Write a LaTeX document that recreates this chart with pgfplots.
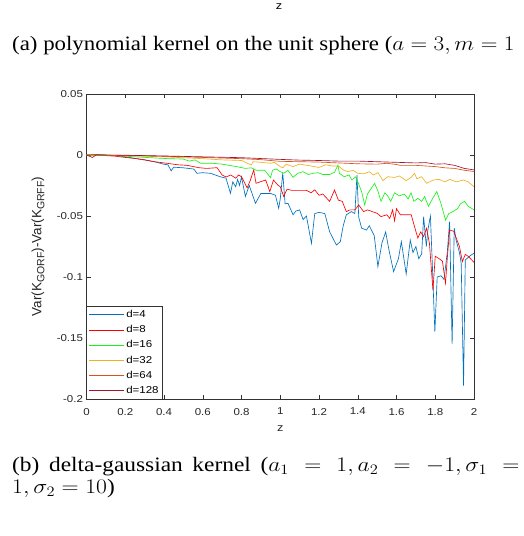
\documentclass[border=0pt]{standalone}
\usepackage{fontspec}
\setmainfont{Liberation Serif}
\newfontfamily\hv[FakeStretch=1.15]{Liberation Sans}
\newfontfamily\hvn{Liberation Sans}
\usepackage{graphicx}
\usepackage{pgfplots}
\pgfplotsset{compat=1.18}
\definecolor{cA}{rgb}{0,0.447,0.741}
\definecolor{cB}{rgb}{1,0,0}
\definecolor{cC}{rgb}{0.1,0.95,0.1}
\definecolor{cD}{rgb}{0.929,0.694,0.125}
\definecolor{cE}{rgb}{0.85,0.325,0.098}
\definecolor{cF}{rgb}{0.635,0.078,0.184}
\newcommand{\capfont}{\fontsize{20.5}{24}\selectfont}
\newcommand{\sub}[1]{\raisebox{-3pt}{\fontsize{10.5}{11}\selectfont #1}}
\begin{document}
\begin{tikzpicture}
\useasboundingbox (0pt,0pt) rectangle (524pt,536pt);
\node[font=\hv\fontsize{11}{12}\selectfont, inner sep=0pt] at (279pt,529pt) {z};
\node[anchor=base west, inner sep=0pt] at (12pt,485pt) {\scalebox{1.115}[1]{\capfont (a) polynomial kernel on the unit sphere ($a=3, m=1$}};
\node[anchor=base west, inner sep=0pt] at (12pt,64.3pt) {\scalebox{1.14}[1]{\capfont\makebox[445pt][s]{(b) delta-gaussian kernel ($a_1 = 1, a_2 = -1, \sigma_1 =$}}};
\node[anchor=base west, inner sep=0pt] at (12pt,42.7pt) {\scalebox{1.14}[1]{\capfont $1, \sigma_2 = 10$)}};
\begin{axis}[
  at={(86.5pt,137pt)}, anchor=south west,
  scale only axis, width=387.5pt, height=305pt,
  xmin=0, xmax=2, ymin=-0.2, ymax=0.05,
  xtick={0,0.2,...,2.01}, ytick={-0.2,-0.15,-0.1,-0.05,0,0.05},
  scaled ticks=false,
  xticklabel style={yshift=-5.5pt, /pgf/number format/.cd, fixed, precision=1},
  yticklabel style={/pgf/number format/.cd, fixed, precision=2},
  /pgf/number format/assume math mode=true,
  tick label style={font=\hv\fontsize{10}{12}\selectfont, text=black!85},
  tick align=inside, major tick length=4pt,
  axis line style={black!80, line width=0.5pt},
  every tick/.style={black!80, line width=0.5pt},
  xlabel={z},
  ylabel={Var(K\sub{GORF})-Var(K\sub{GRFF})},
  every axis x label/.style={at={(axis description cs:0.5,-0.098)}, anchor=center, font=\hv\fontsize{11}{12}\selectfont, text=black!85},
  every axis y label/.style={at={(axis description cs:-0.125,0.5)}, rotate=90, anchor=center, font=\hvn\fontsize{13.5}{14}\selectfont, text=black!85},
  legend style={at={(axis description cs:0,0)}, anchor=south west, draw=black!80, fill=white,
    font=\hv\fontsize{10}{12}\selectfont, row sep=2.4pt, inner sep=2pt},
  legend cell align=left,
  legend image code/.code={\draw[#1] (0pt,0pt) -- (35pt,0pt);},
  every axis plot/.append style={line width=0.65pt},
]
\addplot[cA] coordinates {(0,0) (0.05,0.0005) (0.1,0) (0.15,-0.0005) (0.2,-0.0015) (0.245,-0.0027) (0.3,-0.004) (0.35,-0.0055) (0.4,-0.0076) (0.42,-0.008) (0.437,-0.013) (0.45,-0.010) (0.5,-0.0105) (0.554,-0.0115) (0.57,-0.015) (0.6,-0.0145) (0.64,-0.015) (0.69,-0.0178) (0.72,-0.019) (0.743,-0.0314) (0.755,-0.022) (0.77,-0.026) (0.78,-0.020) (0.79,-0.025) (0.80,-0.018) (0.82,-0.034) (0.84,-0.025) (0.872,-0.0396) (0.9,-0.0315) (0.925,-0.0315) (0.95,-0.0315) (0.975,-0.033) (0.992,-0.0437) (1.0,-0.036) (1.013,-0.0148) (1.025,-0.04) (1.04,-0.0396) (1.066,-0.049) (1.08,-0.046) (1.1,-0.045) (1.118,-0.053) (1.135,-0.05) (1.161,-0.0724) (1.178,-0.048) (1.2,-0.047) (1.23,-0.048) (1.255,-0.063) (1.29,-0.0738) (1.31,-0.071) (1.325,-0.058) (1.341,-0.049) (1.367,-0.0464) (1.385,-0.048) (1.396,-0.0164) (1.405,-0.051) (1.42,-0.06) (1.445,-0.0615) (1.46,-0.058) (1.485,-0.066) (1.504,-0.0915) (1.525,-0.072) (1.544,-0.063) (1.56,-0.077) (1.585,-0.0956) (1.61,-0.085) (1.625,-0.071) (1.65,-0.0975) (1.671,-0.0697) (1.685,-0.08) (1.70,-0.075) (1.715,-0.085) (1.73,-0.081) (1.74,-0.0505) (1.754,-0.075) (1.762,-0.0615) (1.775,-0.05) (1.785,-0.09) (1.798,-0.145) (1.81,-0.1) (1.83,-0.099) (1.845,-0.102) (1.862,-0.08) (1.874,-0.0546) (1.887,-0.155) (1.898,-0.06) (1.908,-0.07) (1.925,-0.08) (1.934,-0.089) (1.946,-0.189) (1.955,-0.086) (1.97,-0.084) (1.985,-0.082) (2.0,-0.0806)};
\addlegendentry{d=4}
\addplot[cB] coordinates {(0,0) (0.05,0.0003) (0.1,-0.0005) (0.15,-0.001) (0.2,-0.002) (0.245,-0.0027) (0.3,-0.004) (0.35,-0.0055) (0.416,-0.0068) (0.47,-0.008) (0.52,-0.0085) (0.58,-0.0104) (0.62,-0.011) (0.674,-0.0104) (0.70,-0.0164) (0.72,-0.018) (0.745,-0.0164) (0.77,-0.019) (0.785,-0.0164) (0.80,-0.0178) (0.829,-0.027) (0.845,-0.021) (0.863,-0.0123) (0.875,-0.0232) (0.9,-0.0218) (0.925,-0.0205) (0.946,-0.030) (0.965,-0.0205) (0.99,-0.025) (1.0,-0.026) (1.018,-0.034) (1.035,-0.028) (1.06,-0.029) (1.1,-0.029) (1.135,-0.029) (1.16,-0.031) (1.178,-0.0285) (1.2,-0.033) (1.22,-0.032) (1.255,-0.038) (1.28,-0.0287) (1.30,-0.037) (1.32,-0.038) (1.341,-0.0464) (1.36,-0.045) (1.385,-0.045) (1.405,-0.041) (1.43,-0.0464) (1.45,-0.045) (1.475,-0.0464) (1.50,-0.0478) (1.52,-0.0505) (1.55,-0.049) (1.565,-0.052) (1.58,-0.045) (1.59,-0.054) (1.60,-0.044) (1.62,-0.049) (1.645,-0.049) (1.676,-0.049) (1.693,-0.0587) (1.71,-0.068) (1.725,-0.063) (1.74,-0.067) (1.755,-0.06) (1.77,-0.0724) (1.788,-0.1107) (1.80,-0.083) (1.82,-0.085) (1.837,-0.087) (1.853,-0.105) (1.862,-0.085) (1.874,-0.0615) (1.895,-0.0625) (1.925,-0.075) (1.94,-0.0874) (1.955,-0.0815) (1.97,-0.083) (2.0,-0.088)};
\addlegendentry{d=8}
\addplot[cC] coordinates {(0,0) (0.1,0) (0.2,-0.001) (0.33,-0.0022) (0.42,-0.003) (0.5,-0.0033) (0.53,-0.005) (0.56,-0.004) (0.589,-0.0068) (0.65,-0.0068) (0.7,-0.0075) (0.777,-0.0096) (0.82,-0.011) (0.85,-0.0105) (0.875,-0.0125) (0.92,-0.0125) (0.95,-0.0186) (0.96,-0.0125) (0.98,-0.0115) (1.0,-0.0137) (1.02,-0.0148) (1.04,-0.0126) (1.066,-0.0183) (1.09,-0.015) (1.118,-0.0137) (1.145,-0.016) (1.17,-0.015) (1.195,-0.0145) (1.22,-0.016) (1.255,-0.016) (1.28,-0.0142) (1.298,-0.0082) (1.305,-0.015) (1.33,-0.0178) (1.355,-0.0164) (1.37,-0.0205) (1.39,-0.0178) (1.41,-0.026) (1.42,-0.030) (1.436,-0.041) (1.45,-0.032) (1.487,-0.0232) (1.505,-0.030) (1.52,-0.038) (1.54,-0.031) (1.555,-0.0335) (1.57,-0.038) (1.59,-0.031) (1.615,-0.0335) (1.64,-0.032) (1.66,-0.036) (1.675,-0.031) (1.69,-0.038) (1.71,-0.0355) (1.73,-0.038) (1.745,-0.034) (1.765,-0.042) (1.785,-0.036) (1.808,-0.030) (1.83,-0.040) (1.853,-0.0533) (1.87,-0.048) (1.89,-0.0465) (1.915,-0.044) (1.93,-0.040) (1.951,-0.038) (1.97,-0.042) (2.0,-0.045)};
\addlegendentry{d=16}
\addplot[cD] coordinates {(0,0) (0.2,-0.0005) (0.4,-0.0015) (0.6,-0.003) (0.7,-0.004) (0.8,-0.0045) (0.85,-0.0082) (0.86,-0.0055) (0.9,-0.006) (0.95,-0.0068) (0.97,-0.006) (1.0,-0.0096) (1.014,-0.0104) (1.03,-0.0075) (1.066,-0.0095) (1.1,-0.0075) (1.15,-0.0088) (1.2,-0.0102) (1.235,-0.008) (1.27,-0.009) (1.3,-0.009) (1.325,-0.0122) (1.35,-0.0137) (1.375,-0.0125) (1.4,-0.015) (1.43,-0.0155) (1.46,-0.0137) (1.48,-0.0164) (1.505,-0.0145) (1.53,-0.021) (1.555,-0.0178) (1.59,-0.0184) (1.615,-0.0172) (1.65,-0.021) (1.675,-0.0184) (1.693,-0.015) (1.705,-0.0195) (1.73,-0.0178) (1.755,-0.0232) (1.79,-0.0205) (1.82,-0.020) (1.85,-0.022) (1.875,-0.020) (1.91,-0.022) (1.945,-0.0205) (1.97,-0.022) (2.0,-0.026)};
\addlegendentry{d=32}
\addplot[cE] coordinates {(0,0) (0.2,-0.0003) (0.4,-0.001) (0.6,-0.002) (0.8,-0.003) (0.9,-0.0038) (1.0,-0.0052) (1.1,-0.0055) (1.2,-0.0058) (1.3,-0.0065) (1.4,-0.0072) (1.5,-0.0075) (1.55,-0.0068) (1.6,-0.0078) (1.62,-0.0085) (1.7,-0.0085) (1.8,-0.0095) (1.85,-0.0105) (1.9,-0.011) (1.95,-0.0125) (2.0,-0.0135)};
\addlegendentry{d=64}
\addplot[cF] coordinates {(0,0) (0.03,-0.002) (0.05,0) (0.2,-0.0002) (0.4,-0.0008) (0.6,-0.0015) (0.8,-0.0022) (1.0,-0.0036) (1.1,-0.0042) (1.2,-0.0045) (1.3,-0.005) (1.4,-0.005) (1.5,-0.0055) (1.6,-0.006) (1.7,-0.0065) (1.75,-0.0062) (1.8,-0.0075) (1.85,-0.0072) (1.9,-0.0085) (1.95,-0.011) (2.0,-0.0122)};
\addlegendentry{d=128}
\end{axis}
\end{tikzpicture}
\end{document}
